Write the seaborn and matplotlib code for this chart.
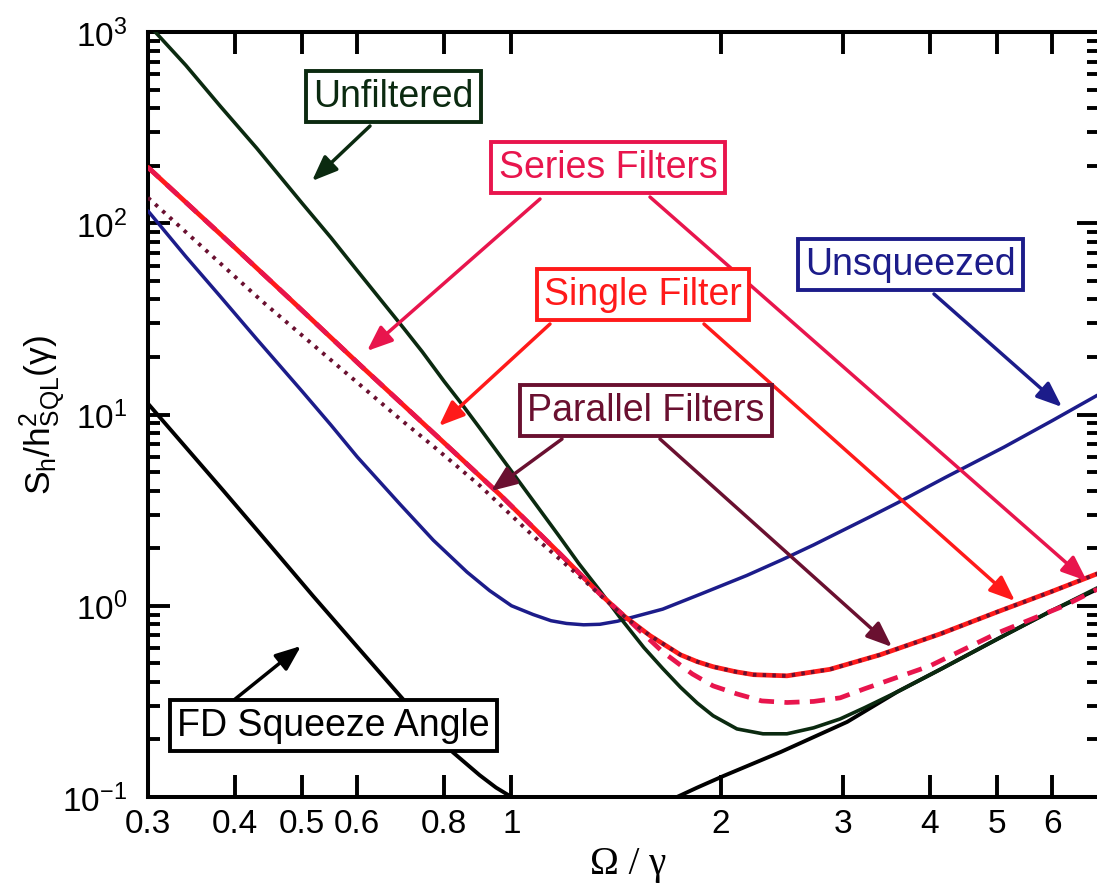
import matplotlib
matplotlib.use("Agg")
import matplotlib.pyplot as plt
import seaborn as sns
import pandas as pd
from matplotlib.ticker import NullLocator, FixedLocator, FixedFormatter, LogLocator

# ---------------- data ----------------
unfilt_x = [0.300, 0.340, 0.381, 0.430, 0.500, 0.550, 0.600, 0.647, 0.700, 0.744, 0.800, 0.852,
            0.900, 1.00, 1.08, 1.17, 1.25, 1.34, 1.43, 1.55, 1.65, 1.75, 1.85, 1.95,
            2.11, 2.30, 2.49, 2.72, 2.97, 3.22, 3.59, 4.14, 5.00, 5.96, 6.96]
unfilt_y = [1100, 670, 410, 247, 127, 84, 56.5, 40.2, 28.2, 21.3, 14.9, 11.1,
            8.5, 5.05, 3.45, 2.32, 1.66, 1.20, 0.875, 0.605, 0.47, 0.375, 0.31, 0.266,
            0.227, 0.214, 0.214, 0.23, 0.256, 0.293, 0.355, 0.465, 0.67, 0.935, 1.24]

unsq_x = [0.300, 0.340, 0.381, 0.430, 0.500, 0.550, 0.600, 0.691, 0.772, 0.863, 0.930, 1.000,
          1.074, 1.14, 1.20, 1.27, 1.34, 1.42, 1.50, 1.65, 1.87, 2.18, 2.45, 2.72, 3.28,
          3.59, 4.20, 5.11, 6.00, 6.96]
unsq_y = [116, 67, 41.5, 24.8, 13.2, 8.8, 6.0, 3.40, 2.2, 1.5, 1.2, 1.00,
          0.90, 0.835, 0.808, 0.795, 0.80, 0.83, 0.875, 0.96, 1.15, 1.44, 1.74, 2.08, 2.92,
          3.45, 4.67, 6.75, 9.3, 12.6]

single_x = [0.300, 0.381, 0.480, 0.605, 0.789, 0.963, 1.174, 1.34, 1.457, 1.583, 1.75, 1.85,
            1.95, 2.10, 2.23, 2.49, 2.87, 3.39, 4.14, 5.00, 5.96, 6.96]
single_y = [196, 87.9, 40.2, 18.2, 7.45, 3.80, 1.87, 1.154, 0.875, 0.697, 0.554, 0.51,
            0.480, 0.452, 0.436, 0.430, 0.465, 0.554, 0.713, 0.929, 1.18, 1.47]

series_x = [0.300, 0.381, 0.480, 0.605, 0.789, 0.963, 1.174, 1.34, 1.457, 1.65, 1.82, 1.95,
            2.11, 2.29, 2.49, 2.72, 2.97, 3.22, 4.00, 5.00, 6.24, 6.96]
series_y = [196, 87.9, 40.2, 18.2, 7.45, 3.80, 1.87, 1.154, 0.875, 0.574, 0.440, 0.381,
            0.346, 0.318, 0.312, 0.316, 0.330, 0.368, 0.485, 0.72, 1.0, 1.22]

parallel_x = [0.300, 0.437, 0.691, 0.771, 0.901, 1.074, 1.28, 1.34, 1.457, 1.583, 1.75, 1.85,
              1.95, 2.10, 2.23, 2.49, 2.87, 3.39, 4.14, 5.00, 5.96, 6.96]
parallel_y = [136, 39.3, 9.48, 6.85, 4.24, 2.32, 1.33, 1.14, 0.87, 0.697, 0.554, 0.51,
              0.480, 0.452, 0.436, 0.430, 0.465, 0.554, 0.713, 0.929, 1.18, 1.47]

fd_low_x = [0.300, 0.340, 0.385, 0.430, 0.465, 0.518, 0.600, 0.698, 0.750, 0.824, 0.900,
            0.950, 1.000, 1.05]
fd_low_y = [11.4, 6.74, 4.0, 2.5, 1.79, 1.127, 0.61, 0.325, 0.241, 0.171, 0.130,
            0.112, 0.100, 0.092]
fd_high_x = [1.60, 1.73, 1.85, 2.02, 2.44, 3.04, 3.59, 4.14, 5.00, 5.96, 6.96]
fd_high_y = [0.092, 0.100, 0.112, 0.129, 0.172, 0.247, 0.355, 0.465, 0.67, 0.935, 1.22]

x_ticks = [0.3, 0.4, 0.5, 0.6, 0.8, 1, 2, 3, 4, 5, 6]
x_tick_labels = ["0.3", "0.4", "0.5", "0.6", "0.8", "1", "2", "3", "4", "5", "6"]

# ---------------- style ----------------
sns.set_theme(style="ticks")
plt.rcParams["font.family"] = ["Liberation Sans", "DejaVu Sans"]
plt.rcParams["mathtext.default"] = "regular"
plt.rcParams["axes.linewidth"] = 2.9

C_UNF = "#0b2a10"
C_SER = "#e8154d"
C_SIN = "#ff1a1a"
C_PAR = "#6a1030"
C_UNS = "#1c1c8a"
C_FD = "#000000"

W, H = 1097, 895
fig = plt.figure(figsize=(W / 100, H / 100), dpi=100)
L, R, T, B = 148, 1099, 33, 798
ax = fig.add_axes([L / W, 1 - B / H, (R - L) / W, (B - T) / H])


def curve(xs, ys, **kw):
    df = pd.DataFrame({"x": xs, "y": ys})
    sns.lineplot(data=df, x="x", y="y", ax=ax, estimator=None, sort=False,
                 legend=False, **kw)


curve(unsq_x, unsq_y, color=C_UNS, lw=2.5, zorder=3)
curve(fd_low_x, fd_low_y, color=C_FD, lw=2.8, zorder=3)
curve(fd_high_x, fd_high_y, color=C_FD, lw=2.8, zorder=3)
curve(unfilt_x, unfilt_y, color=C_UNF, lw=2.6, zorder=3)
curve(single_x, single_y, color=C_SIN, lw=3.4, zorder=4)
curve(series_x, series_y, color=C_SER, lw=3.4, linestyle=(0, (3.2, 2.2)), zorder=5)
curve(parallel_x, parallel_y, color=C_PAR, lw=2.8, linestyle=(0, (0.9, 1.6)), zorder=6)

ax.set_xscale("log")
ax.set_yscale("log")
ax.set_xlim(0.3, 7.0)
ax.set_ylim(0.1, 1000)

ax.xaxis.set_major_locator(FixedLocator(x_ticks))
ax.xaxis.set_major_formatter(FixedFormatter(x_tick_labels))
ax.xaxis.set_minor_locator(NullLocator())
ax.yaxis.set_major_locator(LogLocator(base=10, numticks=10))
ax.yaxis.set_minor_locator(LogLocator(base=10, subs=range(2, 10), numticks=20))

ax.tick_params(which="both", direction="in", top=True, right=True, width=2.8,
               color="black", labelsize=24, labelcolor="black")
ax.tick_params(which="major", length=16)
ax.tick_params(which="minor", length=8.5)
ax.tick_params(axis="x", pad=8)
ax.tick_params(axis="y", pad=15)
for s in ax.spines.values():
    s.set_color("black")
    s.set_linewidth(2.9)

ax.set_xlabel("Ω / γ", fontsize=28, family=["Liberation Serif", "DejaVu Serif"],
              color="black", va="top")
ax.xaxis.set_label_coords((628 - L) / (R - L), (B - 846) / (B - T))
ax.set_ylabel("S$_h$/h$^2_{SQL}$(γ)", fontsize=25.5, color="black", va="center")
ax.yaxis.set_label_coords((43 - L) / (R - L), (B - 415) / (B - T))


def fx(px):
    return (px - L) / (R - L)


def fy(py):
    return (B - py) / (B - T)


labels = [
    ("Unfiltered", 393.5, 97.5, C_UNF),
    ("Series Filters", 608, 168, C_SER),
    ("Single Filter", 643, 295, C_SIN),
    ("Parallel Filters", 646, 411.5, C_PAR),
    ("Unsqueezed", 910.5, 265.5, C_UNS),
    ("FD Squeeze Angle", 333.5, 726.5, C_FD),
]
for txt, px, py, c in labels:
    ax.text(fx(px), fy(py), txt, transform=ax.transAxes, ha="center", va="center",
            fontsize=27, color=c, zorder=10,
            bbox=dict(boxstyle="square,pad=0.2", fc="white", ec=c, lw=2.8))

arrows = [
    ((370, 127), (312, 182), C_UNF),
    ((540, 200), (367, 352), C_SER),
    ((650, 198), (1087, 582), C_SER),
    ((550, 325), (439, 427), C_SIN),
    ((704, 325), (1015, 602), C_SIN),
    ((562, 440), (491, 492), C_PAR),
    ((660, 440), (892, 648), C_PAR),
    ((934, 295), (1062, 408), C_UNS),
    ((229, 705), (301, 647), C_FD),
]
for (sx, sy), (tx, ty), c in arrows:
    ax.annotate("", xy=(fx(tx), fy(ty)), xytext=(fx(sx), fy(sy)),
                xycoords="axes fraction", textcoords="axes fraction", zorder=8,
                arrowprops=dict(arrowstyle="-|>,head_length=0.7,head_width=0.28",
                                color=c, lw=2.5, shrinkA=0, shrinkB=0,
                                mutation_scale=22))

fig.savefig("out.png", dpi=100)
